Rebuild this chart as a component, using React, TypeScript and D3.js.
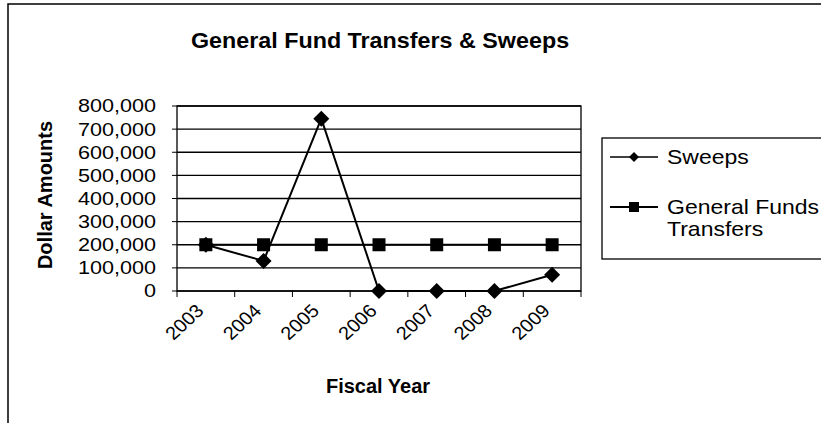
import React from 'react';
import * as d3 from 'd3';

const years = ['2003', '2004', '2005', '2006', '2007', '2008', '2009'];
const sweeps = [200000, 130000, 745000, 0, 0, 0, 70000];
const transfers = [200000, 200000, 200000, 200000, 200000, 200000, 200000];
const yTicks = [0, 100000, 200000, 300000, 400000, 500000, 600000, 700000, 800000];

const W = 821;
const H = 423;
const margin = { top: 106, right: 240, bottom: 132, left: 177 };
const FONT = 'Liberation Sans, Arial, sans-serif';

// the scanned original is a little wider than tall, so text is stretched sideways
const SX = 1.18;

type TProps = {
  x: number; y: number; sx?: number; rot?: number; size: number;
  anchor?: 'start' | 'middle' | 'end'; bold?: boolean; dy?: string; children: React.ReactNode;
};
const T = ({ x, y, sx = SX, rot = 0, size, anchor = 'start', bold, dy, children }: TProps) => (
  <text transform={`translate(${x},${y}) scale(${sx},1) rotate(${rot})`} textAnchor={anchor}
    fontSize={size} fontWeight={bold ? 'bold' : 'normal'} dy={dy}>{children}</text>
);

const App: React.FC = () => {
  const x = d3.scaleBand<string>()
    .domain(years)
    .range([margin.left, W - margin.right]);

  const y = d3.scaleLinear()
    .domain([0, 800000])
    .range([H - margin.bottom, margin.top]);

  const cx = (d: string) => (x(d) as number) + x.bandwidth() / 2;
  const fmt = d3.format(',');

  const line = d3.line<number>()
    .x((_, i) => cx(years[i]))
    .y(d => y(d));

  const diamond = (px: number, py: number, r: number) =>
    `M${px},${py - r}L${px + r},${py}L${px},${py + r}L${px - r},${py}Z`;

  const plotLeft = margin.left;
  const plotRight = W - margin.right;
  const plotTop = margin.top;
  const plotBottom = H - margin.bottom;

  return (
    <svg width={W} height={H} style={{ position: 'absolute', left: 0, top: 0 }} fontFamily={FONT}>
      <rect x={0} y={0} width={W} height={H} fill="#fff" />
      {/* outer chart border */}
      <rect x={8} y={4} width={W} height={H} fill="none" stroke="#000" strokeWidth={1.5} />

      <T x={380} y={48} size={22} sx={1.06} anchor="middle" bold>General Fund Transfers &amp; Sweeps</T>

      {/* gridlines */}
      {yTicks.map(t => (
        <line key={t} x1={plotLeft} x2={plotRight} y1={y(t)} y2={y(t)} stroke="#000" strokeWidth={1.3} />
      ))}
      <rect x={plotLeft} y={plotTop} width={plotRight - plotLeft} height={plotBottom - plotTop}
        fill="none" stroke="#000" strokeWidth={1.3} />

      {/* y axis */}
      {yTicks.map(t => (
        <g key={t}>
          <line x1={plotLeft - 5} x2={plotLeft} y1={y(t)} y2={y(t)} stroke="#000" />
          <T x={156} y={y(t)} dy="0.36em" size={18} sx={1.2} anchor="end">{fmt(t)}</T>
        </g>
      ))}
      <T x={52} y={195} rot={-90} sx={1} size={20} anchor="middle" bold>Dollar Amounts</T>

      {/* x axis ticks */}
      {[...years.map(d => x(d) as number), plotRight].map((v, i) => (
        <line key={i} x1={v} x2={v} y1={plotBottom} y2={plotBottom + 6} stroke="#000" />
      ))}
      {years.map(d => (
        <T key={d} x={cx(d) - 1} y={plotBottom + 21} rot={-45} sx={1.08} size={18.5} anchor="end">{d}</T>
      ))}
      <T x={378} y={393} size={20} sx={1.0} anchor="middle" bold>Fiscal Year</T>

      {/* series */}
      <path d={line(transfers) as string} fill="none" stroke="#000" strokeWidth={2} />
      <path d={line(sweeps) as string} fill="none" stroke="#000" strokeWidth={2} />
      {transfers.map((v, i) => (
        <rect key={i} x={cx(years[i]) - 6.5} y={y(v) - 6.5} width={13} height={13} fill="#000" />
      ))}
      {sweeps.map((v, i) => (
        <path key={i} d={diamond(cx(years[i]), y(v), 8)} fill="#000" />
      ))}

      {/* legend */}
      <rect x={602} y={138} width={W} height={121} fill="#fff" stroke="#000" strokeWidth={1.3} />
      <line x1={610} x2={658} y1={157} y2={157} stroke="#000" strokeWidth={1.5} />
      <path d={diamond(634, 157, 5)} fill="#000" />
      <T x={667} y={157} dy="0.36em" size={20} sx={1.15}>Sweeps</T>
      <line x1={610} x2={658} y1={207} y2={207} stroke="#000" strokeWidth={2} />
      <rect x={629} y={202} width={10} height={10} fill="#000" />
      <T x={667} y={207} dy="0.36em" size={20} sx={1.15}>General Funds</T>
      <T x={667} y={229} dy="0.36em" size={20} sx={1.15}>Transfers</T>
    </svg>
  );
};

export default App;
